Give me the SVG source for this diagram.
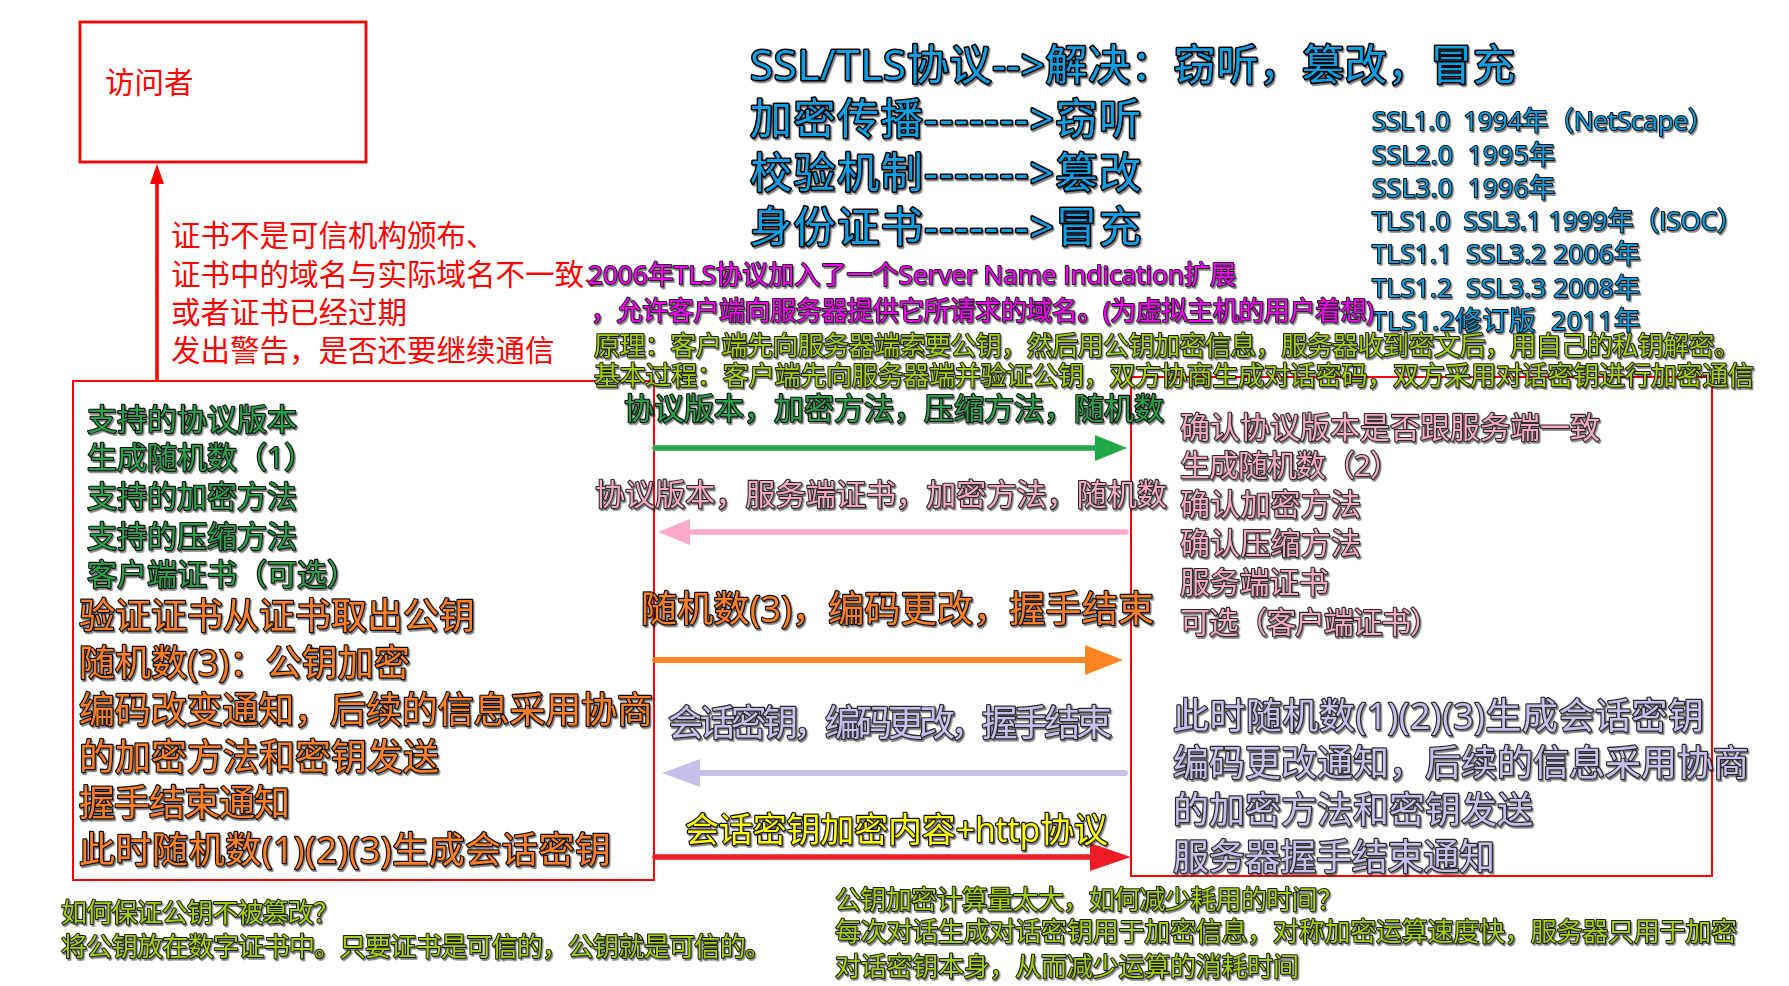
<svg xmlns="http://www.w3.org/2000/svg" width="1789" height="986" viewBox="0 0 1789 986">
<defs>
<style>
text{font-family:"Open Sans","Noto Sans CJK SC",sans-serif;white-space:pre}
.o{paint-order:stroke;stroke-linejoin:round;filter:url(#sh)}
.red{fill:#ff0000;font-size:29.5px}
.blue{fill:#0a9fe2;stroke:#000;stroke-width:3px;font-size:42px}
.ver{fill:#0a9fe2;stroke:#111;stroke-width:2px;font-size:26px}
.mag{fill:#ff00ff;stroke:#222;stroke-width:2px;font-size:26px}
.yg{fill:#a3d10f;stroke:#1a1a1a;stroke-width:2px;font-size:26px}
.grn{fill:#2aa04a;stroke:#111;stroke-width:2.2px;font-size:30px}
.pink{fill:#f6a9c6;stroke:#2a2a2a;stroke-width:2.2px;font-size:30px}
.org{fill:#ff7f27;stroke:#111;stroke-width:2.4px;font-size:36px}
.lav{fill:#c7c0ee;stroke:#2a2a2a;stroke-width:2.4px;font-size:36px}
.yel{fill:#ffff00;stroke:#111;stroke-width:2.4px;font-size:34px}
.box{fill:none;stroke:#ff0000}
.ar{fill:none;stroke-linecap:round}
</style>
<filter id="sh" x="-5%" y="-20%" width="110%" height="150%">
<feDropShadow dx="1.4" dy="1.8" stdDeviation="0.7" flood-color="#000" flood-opacity="0.5"/>
</filter>
</defs>
<rect width="1789" height="986" fill="#ffffff"/>

<g id="visitor">
<rect class="box" x="80" y="22" width="286" height="140" stroke-width="2.8"/>
<text class="red" x="105" y="93" font-size="30">访问者</text>
</g>

<g id="client">
<rect class="box" x="73" y="381" width="581" height="499" stroke-width="2"/>
<text class="o grn" x="87" y="430">支持的协议版本</text>
<text class="o grn" x="87" y="468">生成随机数（1）</text>
<text class="o grn" x="87" y="507">支持的加密方法</text>
<text class="o grn" x="87" y="547">支持的压缩方法</text>
<text class="o grn" x="87" y="585">客户端证书（可选）</text>
<text class="o org" x="79" y="629" textLength="396">验证证书从证书取出公钥</text>
<text class="o org" x="79" y="676" textLength="331">随机数(3)：公钥加密</text>
<text class="o org" x="79" y="723" textLength="574">编码改变通知，后续的信息采用协商</text>
<text class="o org" x="79" y="770" textLength="360">的加密方法和密钥发送</text>
<text class="o org" x="79" y="816" textLength="211">握手结束通知</text>
<text class="o org" x="79" y="863" textLength="532">此时随机数(1)(2)(3)生成会话密钥</text>
</g>

<g id="server">
<rect class="box" x="1131" y="377" width="581" height="499" stroke-width="2"/>
<text class="o pink" x="1180" y="438" textLength="420">确认协议版本是否跟服务端一致</text>
<text class="o pink" x="1180" y="476" textLength="220">生成随机数（2）</text>
<text class="o pink" x="1180" y="515" textLength="181">确认加密方法</text>
<text class="o pink" x="1180" y="554" textLength="181">确认压缩方法</text>
<text class="o pink" x="1180" y="593" textLength="149">服务端证书</text>
<text class="o pink" x="1180" y="633" textLength="260">可选（客户端证书）</text>
<text class="o lav" x="1173" y="729" textLength="531">此时随机数(1)(2)(3)生成会话密钥</text>
<text class="o lav" x="1173" y="776" textLength="576">编码更改通知，后续的信息采用协商</text>
<text class="o lav" x="1173" y="823" textLength="360">的加密方法和密钥发送</text>
<text class="o lav" x="1173" y="870" textLength="322">服务器握手结束通知</text>
</g>

<g id="warning">
<text class="red" x="171" y="246">证书不是可信机构颁布、</text>
<text class="red" x="171" y="285">证书中的域名与实际域名不一致、</text>
<text class="red" x="171" y="323">或者证书已经过期</text>
<text class="red" x="171" y="361">发出警告，是否还要继续通信</text>
</g>

<g id="title">
<text class="o blue" x="750" y="80" textLength="765">SSL/TLS协议--&gt;解决：窃听，篡改，冒充</text>
<text class="o blue" x="750" y="134" textLength="391">加密传播-------&gt;窃听</text>
<text class="o blue" x="750" y="188" textLength="391">校验机制-------&gt;篡改</text>
<text class="o blue" x="750" y="242" textLength="391">身份证书-------&gt;冒充</text>
</g>

<g id="versions">
<text class="o ver" x="1372" y="130" textLength="342">SSL1.0  1994年（NetScape）</text>
<text class="o ver" x="1372" y="164" textLength="183">SSL2.0  1995年</text>
<text class="o ver" x="1372" y="197" textLength="183">SSL3.0  1996年</text>
<text class="o ver" x="1372" y="230" textLength="371">TLS1.0  SSL3.1 1999年（ISOC）</text>
<text class="o ver" x="1372" y="263" textLength="268">TLS1.1  SSL3.2 2006年</text>
<text class="o ver" x="1372" y="297" textLength="268">TLS1.2  SSL3.3 2008年</text>
<text class="o ver" x="1372" y="330" textLength="268">TLS1.2修订版  2011年</text>
</g>

<g id="sni">
<text class="o mag" x="588" y="284" textLength="648">2006年TLS协议加入了一个Server Name Indication扩展</text>
<text class="o mag" x="591" y="320" textLength="783">，允许客户端向服务器提供它所请求的域名。(为虚拟主机的用户着想)</text>
</g>

<g id="principle">
<text class="o yg" x="594" y="355" textLength="1146">原理：客户端先向服务器端索要公钥，然后用公钥加密信息，服务器收到密文后，用自己的私钥解密。</text>
<text class="o yg" x="594" y="385" textLength="1160">基本过程：客户端先向服务器端并验证公钥，双方协商生成对话密码，双方采用对话密钥进行加密通信</text>
</g>

<g id="notes-left">
<text class="o yg" x="61" y="922" font-size="25" textLength="278">如何保证公钥不被篡改？</text>
<text class="o yg" x="61" y="956" font-size="25" textLength="710">将公钥放在数字证书中。只要证书是可信的，公钥就是可信的。</text>
</g>

<g id="notes-right">
<text class="o yg" x="835" y="909" font-size="25" textLength="508">公钥加密计算量太大，如何减少耗用的时间？</text>
<text class="o yg" x="835" y="941" font-size="25" textLength="902">每次对话生成对话密钥用于加密信息，对称加密运算速度快，服务器只用于加密</text>
<text class="o yg" x="835" y="976" font-size="25" textLength="464">对话密钥本身，从而减少运算的消耗时间</text>
</g>

<g id="connectors">
<line class="ar" x1="157" y1="380" x2="157" y2="182" stroke="#ff0000" stroke-width="3.5"/>
<polygon points="157,164 150,184 164,184" fill="#ff0000"/>

<line class="ar" x1="655" y1="448" x2="1098" y2="448" stroke="#23a847" stroke-width="5.5"/>
<polygon points="1127,448 1095,435 1095,461" fill="#23a847"/>
<text class="o grn" x="624" y="419" textLength="540">协议版本，加密方法，压缩方法，随机数</text>

<line class="ar" x1="1126" y1="532" x2="686" y2="532" stroke="#ffaacc" stroke-width="5.5"/>
<polygon points="658,532 690,519 690,545" fill="#ffaacc"/>
<text class="o pink" x="595" y="505" textLength="572">协议版本，服务端证书，加密方法，随机数</text>

<line class="ar" x1="655" y1="660" x2="1088" y2="660" stroke="#ff8522" stroke-width="6"/>
<polygon points="1123,660 1085,645 1085,675" fill="#ff8522"/>
<text class="o org" x="641" y="622" textLength="513">随机数(3)，编码更改，握手结束</text>

<line class="ar" x1="1125" y1="773" x2="697" y2="773" stroke="#c8c0e8" stroke-width="6"/>
<polygon points="662,773 700,759 700,787" fill="#c8c0e8"/>
<text class="o lav" x="668" y="736" font-size="31" textLength="444">会话密钥，编码更改，握手结束</text>

<line class="ar" x1="655" y1="857" x2="1095" y2="857" stroke="#ee1c24" stroke-width="5.5"/>
<polygon points="1131,857 1090,843 1090,871" fill="#ee1c24"/>
<text class="o yel" x="685" y="842" textLength="423">会话密钥加密内容+http协议</text>
</g>
</svg>
